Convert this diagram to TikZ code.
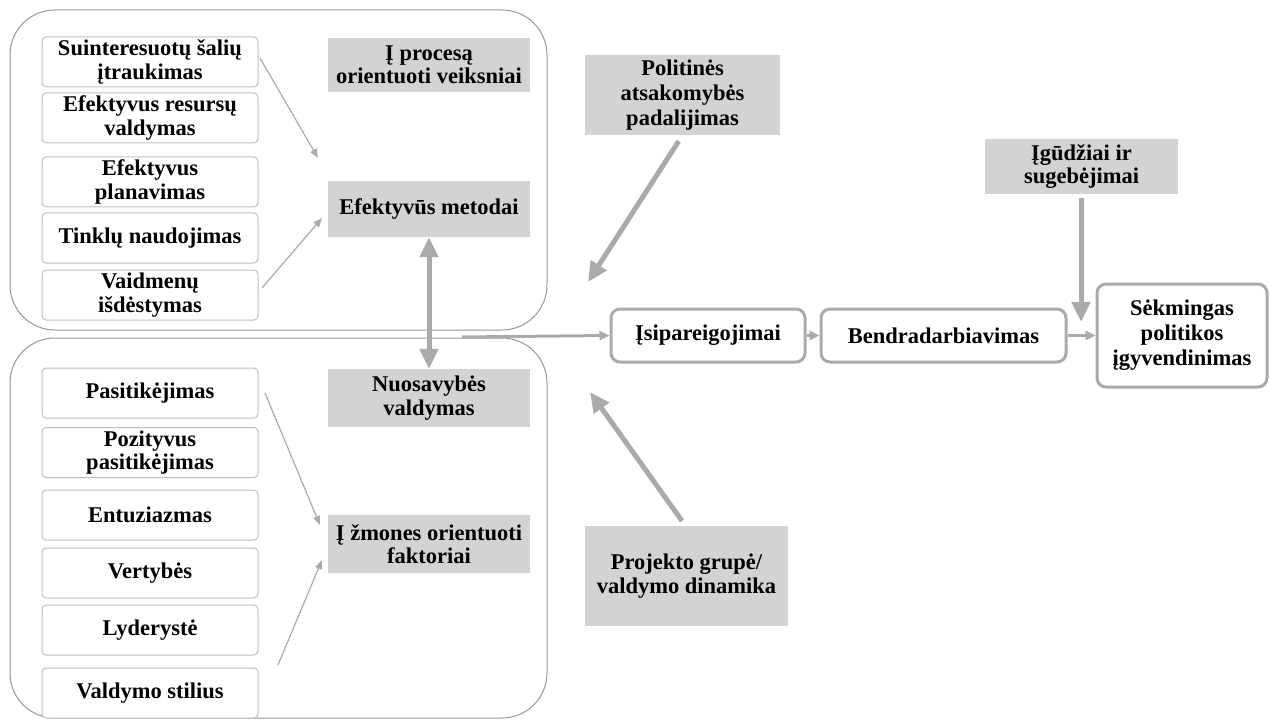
\documentclass[tikz,border=0pt]{standalone}
\usepackage{fontspec}
\setmainfont{Liberation Serif}
\usetikzlibrary{arrows.meta}
\definecolor{boxgray}{RGB}{211,211,211}
\definecolor{linegray}{RGB}{170,170,170}
\definecolor{framegray}{RGB}{150,150,150}
\definecolor{thingray}{RGB}{190,190,190}
\begin{document}
\begin{tikzpicture}[x=1pt,y=-1pt,
  every node/.style={font=\fontsize{22.5}{23.5}\selectfont\bfseries, align=center, inner sep=0pt},
  container/.style={draw=framegray, line width=1pt, rounded corners=45pt},
  item/.style={draw=thingray, line width=1pt, rounded corners=4pt, fill=white,
    minimum width=216pt, minimum height=50pt},
  factor/.style={fill=boxgray, minimum width=202pt},
  stage/.style={draw=linegray, line width=3pt, rounded corners=9pt, fill=white, minimum height=53pt},
  thin arrow/.style={draw=linegray, line width=1.2pt, -{Triangle[length=9pt,width=7pt]}},
  thick arrow/.style={draw=linegray, line width=5pt, -{Triangle[length=20pt,width=18pt]}},
  flow arrow/.style={draw=linegray, line width=3pt, -{Triangle[length=10pt,width=9pt]}}]
\useasboundingbox (0,0) rectangle (1269,722);

% two containers
\draw[container] (10,10) rectangle (547,330);
\draw[container] (10,338) rectangle (547,718);

% process-oriented items
\node[item] (t1) at (150,62) {Suinteresuotų šalių\\įtraukimas};
\node[item] (t2) at (150,118) {Efektyvus resursų\\valdymas};
\node[item] (t3) at (150,182) {Efektyvus\\planavimas};
\node[item] (t4) at (150,238) {Tinklų naudojimas};
\node[item] (t5) at (150,295) {Vaidmenų\\išdėstymas};

\node[factor, minimum height=54pt] (gp) at (429,65) {Į procesą\\orientuoti veiksniai};
\node[factor, minimum height=56pt] (gm) at (429,209) {Efektyvūs metodai};

% people-oriented items
\node[item] (b1) at (150,393) {Pasitikėjimas};
\node[item] (b2) at (150,452.5) {Pozityvus\\pasitikėjimas};
\node[item] (b3) at (150,515) {Entuziazmas};
\node[item] (b4) at (150,573) {Vertybės};
\node[item] (b5) at (150,630) {Lyderystė};
\node[item] (b6) at (150,693) {Valdymo stilius};

\node[factor, minimum height=58pt] (gn) at (429,398) {Nuosavybės\\valdymas};
\node[factor, minimum height=58pt] (gz) at (429,544) {Į žmones orientuoti\\faktoriai};

% outer factors
\node[factor, minimum width=195pt, minimum height=80pt, font=\fontsize{22.5}{25}\selectfont\bfseries] (pol) at (682.5,95) {Politinės\\atsakomybės\\padalijimas};
\node[factor, minimum width=203pt, minimum height=100pt, font=\fontsize{22.5}{24.5}\selectfont\bfseries] (proj) at (686.5,576) {Projekto grupė/\\valdymo dinamika};
\node[factor, minimum width=193pt, minimum height=55pt] (igu) at (1081.5,166.5) {Įgūdžiai ir\\sugebėjimai};

% stages
\node[stage, minimum width=194pt] (isi) at (708,335.5) {Įsipareigojimai};
\node[stage, minimum width=245pt] (ben) at (943.5,335.5) {Bendradarbiavimas};
\node[stage, minimum width=170pt, minimum height=103pt, font=\fontsize{22.5}{25}\selectfont\bfseries] (sek) at (1182,335.5) {Sėkmingas\\politikos\\įgyvendinimas};

% free ends
\coordinate (a1s) at (260,58);
\coordinate (a1e) at (318,158);
\coordinate (a2s) at (262,288);
\coordinate (a2e) at (322,218);
\coordinate (a3s) at (265,393);
\coordinate (a3e) at (320,525);
\coordinate (a4s) at (278,665);
\coordinate (a4e) at (322,560);
\coordinate (ls) at (462,337);
\coordinate (pe) at (588,282);
\coordinate (je) at (590,392);
\coordinate (ie) at (1081,322);

% thin arrows into the factor boxes
\draw[thin arrow] (a1s) -- (a1e);
\draw[thin arrow] (a2s) -- (a2e);
\draw[thin arrow] (a3s) -- (a3e);
\draw[thin arrow] (a4s) -- (a4e);

% link between methods and ownership
\draw[thick arrow, {Triangle[length=20pt,width=18pt]}-{Triangle[length=20pt,width=18pt]}] (gm.south) -- (gn.north);

% main flow
\draw[flow arrow] (ls) -- (isi.west);
\draw[flow arrow] (isi.east) -- (ben.west);
\draw[flow arrow] (ben.east) -- (sek.west);

% outer influences
\draw[thick arrow, shorten <=7pt] (pol.south) -- (pe);
\draw[thick arrow, shorten <=6pt] ([xshift=-1pt]proj.north) -- (je);
\draw[thick arrow, shorten <=4pt] ([xshift=-0.5pt]igu.south) -- (ie);
\end{tikzpicture}
\end{document}
